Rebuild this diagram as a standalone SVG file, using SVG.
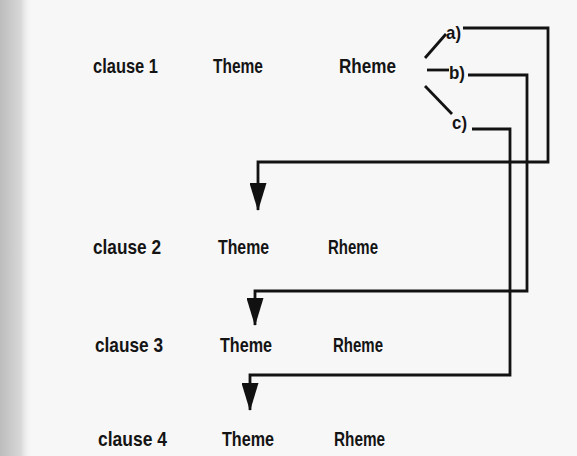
<svg xmlns="http://www.w3.org/2000/svg" width="577" height="456" viewBox="0 0 577 456">
  <defs>
    <linearGradient id="edge" x1="0" y1="0" x2="1" y2="0">
      <stop offset="0" stop-color="#bcbcbc"/>
      <stop offset="0.65" stop-color="#d8d8d8"/>
      <stop offset="1" stop-color="#f6f6f6" stop-opacity="0"/>
    </linearGradient>
    <marker id="arrow" viewBox="0 0 28 17" markerWidth="28" markerHeight="17" refX="27" refY="8.5" orient="auto" markerUnits="userSpaceOnUse">
      <path d="M0,0 L28,8.5 L0,17 z" fill="#111"/>
    </marker>
    <style>
      .t { font-family: "Liberation Sans", Arial, sans-serif; font-weight: bold; font-size: 21px; fill: #141414; }
      .lbl { font-family: "Liberation Sans", Arial, sans-serif; font-weight: bold; font-size: 19px; fill: #141414; }
      .ln { fill: none; stroke: #121212; stroke-width: 2.8; stroke-linejoin: miter; }
    </style>
  </defs>

  <!-- paper -->
  <rect x="0" y="0" width="577" height="456" fill="#f7f7f8"/>
  <rect x="0" y="0" width="32" height="456" fill="url(#edge)"/>

  <!-- row 1 -->
  <g id="clause1"><text class="t" x="93" y="73" textLength="65" lengthAdjust="spacingAndGlyphs">clause 1</text></g>
  <g id="theme1"><text class="t" x="213" y="73" textLength="50" lengthAdjust="spacingAndGlyphs">Theme</text></g>
  <g id="rheme1"><text class="t" x="339" y="73" textLength="57" lengthAdjust="spacingAndGlyphs">Rheme</text></g>

  <!-- row 2 -->
  <g id="clause2"><text class="t" x="93" y="254" textLength="68" lengthAdjust="spacingAndGlyphs">clause 2</text></g>
  <g id="theme2"><text class="t" x="218" y="254" textLength="51" lengthAdjust="spacingAndGlyphs">Theme</text></g>
  <g id="rheme2"><text class="t" x="328" y="254" textLength="50" lengthAdjust="spacingAndGlyphs">Rheme</text></g>

  <!-- row 3 -->
  <g id="clause3"><text class="t" x="95" y="352" textLength="68" lengthAdjust="spacingAndGlyphs">clause 3</text></g>
  <g id="theme3"><text class="t" x="220" y="352" textLength="52" lengthAdjust="spacingAndGlyphs">Theme</text></g>
  <g id="rheme3"><text class="t" x="333" y="352" textLength="50" lengthAdjust="spacingAndGlyphs">Rheme</text></g>

  <!-- row 4 -->
  <g id="clause4"><text class="t" x="98" y="446" textLength="69" lengthAdjust="spacingAndGlyphs">clause 4</text></g>
  <g id="theme4"><text class="t" x="222" y="446" textLength="52" lengthAdjust="spacingAndGlyphs">Theme</text></g>
  <g id="rheme4"><text class="t" x="334" y="446" textLength="51" lengthAdjust="spacingAndGlyphs">Rheme</text></g>

  <!-- branch labels -->
  <g id="label-a"><text class="lbl" x="446" y="39" textLength="15" lengthAdjust="spacingAndGlyphs">a)</text></g>
  <g id="label-b"><text class="lbl" x="449" y="79" textLength="16" lengthAdjust="spacingAndGlyphs">b)</text></g>
  <g id="label-c"><text class="lbl" x="452" y="129" textLength="15" lengthAdjust="spacingAndGlyphs">c)</text></g>

  <!-- connectors -->
  <g id="connectors">
    <path class="ln" d="M425,58 L446,34"/>
    <path class="ln" d="M427,70 H449"/>
    <path class="ln" d="M425,86 L452,114"/>
    <path class="ln" d="M463,28 H548 V162 H258 V210" marker-end="url(#arrow)"/>
    <path class="ln" d="M468,75 H527 V291 H255 V325" marker-end="url(#arrow)"/>
    <path class="ln" d="M472,129 H510 V375 H250 V410" marker-end="url(#arrow)"/>
  </g>
</svg>
